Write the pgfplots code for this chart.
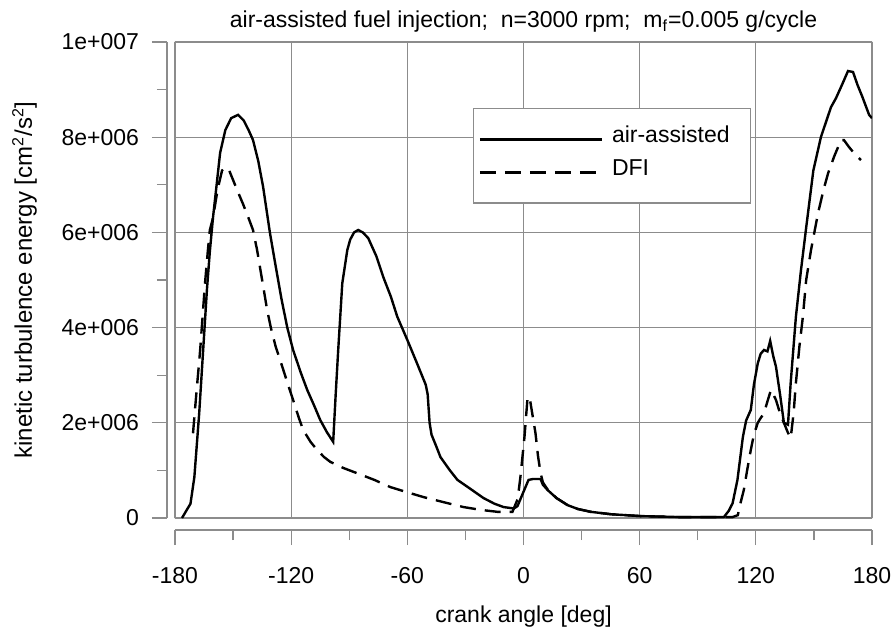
\documentclass[border=0pt]{standalone}
\usepackage{fontspec}
\setmainfont{Liberation Sans}
\usepackage{pgfplots}
\pgfplotsset{compat=1.18}

\definecolor{gridgray}{gray}{0.55}

\begin{document}
\begin{tikzpicture}
% page frame: 893 x 626 px at 0.5pt per px, axis box lower left at (0,0)
\path[use as bounding box] (-87.5pt,-54pt) rectangle (359pt,259pt);
\begin{axis}[
    at={(0,0)}, anchor=south west,
    scale only axis,
    width=348.5pt, height=238pt,
    font=\fontsize{11.5}{13.5}\selectfont,
    xmin=-180, xmax=180,
    ymin=0, ymax=10,
    separate axis lines,
    axis x line*=bottom, axis y line*=left,
    axis line style={gridgray, line width=0.6pt, -},
    x axis line style={yshift=-6pt},
    y axis line style={xshift=-4pt},
    xtick={-180,-120,-60,0,60,120,180},
    xticklabels={-180,-120,-60,0,60,120,180},
    minor xtick={-150,-90,-30,30,90,150},
    ytick={0,2,4,6,8,10},
    yticklabels={0,2e+006,4e+006,6e+006,8e+006,1e+007},
    minor ytick={1,3,5,7,9},
    tick align=outside,
    major tick length=7.5pt, minor tick length=5pt,
    tick style={gridgray, line width=0.6pt},
    xtick style={yshift=-6pt},
    ytick style={xshift=-4pt},
    xticklabel shift=7pt,
    xticklabel style={yshift=-6.5pt},
    yticklabel shift=7pt,
    grid=major,
    major grid style={gridgray, line width=0.6pt},
    title={air-assisted fuel injection;\ \ n=3000 rpm;\ \ m\textsubscript{f}=0.005 g/cycle},
    title style={at={(axis description cs:0.5,1)}, anchor=base, yshift=1pt},
    xlabel={crank angle [deg]},
    xlabel style={at={(axis description cs:0.5,0)}, anchor=base, yshift=-52pt},
    ylabel={kinetic turbulence energy [cm\textsuperscript{2}/s\textsuperscript{2}]},
    ylabel style={at={(axis description cs:0,0.5)}, anchor=base, yshift=71.5pt,
        font=\fontsize{12}{14}\selectfont},
    legend style={at={(0.4276,0.861)}, anchor=north west,
        draw=gridgray, line width=0.6pt, fill=white,
        inner xsep=2.5pt, inner ysep=8.8pt, row sep=3.5pt,
        nodes={inner ysep=0pt, text height=8pt, text depth=5pt},
        font=\fontsize{11.5}{13.5}\selectfont},
    legend cell align=left,
    legend image code/.code={\draw[#1] (0pt,0pt) -- (61pt,0pt);},
]
\draw[gridgray, line width=0.6pt] (rel axis cs:0,0) rectangle (rel axis cs:1,1);

% air-assisted (y in units of 1e6 cm^2/s^2)
\addplot[black, line width=1.2pt] coordinates {
(-176.4,0) (-172,0.3) (-170,0.86) (-167.5,2.2) (-165.5,3.5) (-163.5,4.8)
(-162,5.6) (-160.4,6.3) (-158.5,7.0) (-156.7,7.67) (-154,8.15) (-151,8.4)
(-147.4,8.47) (-144.5,8.35) (-142,8.15) (-139.7,7.94) (-137,7.5) (-134.5,6.96)
(-131,6.0) (-128.3,5.36) (-125,4.6) (-122,4.0) (-119,3.53) (-115,3.05)
(-111.7,2.69) (-108,2.35) (-105,2.06) (-101.5,1.8) (-98.3,1.6) (-97,2.6)
(-95.7,3.53) (-93.6,4.93) (-91,5.63) (-89.5,5.85) (-87.5,6.0) (-85.4,6.05)
(-83,6.0) (-80.2,5.88) (-76,5.5) (-72.4,5.06) (-68.5,4.65) (-65.2,4.23)
(-60,3.74) (-55,3.25) (-50.5,2.8) (-49.5,2.6) (-48.5,2.0) (-47.5,1.75)
(-45,1.5) (-42.9,1.28) (-38,1.0) (-34.1,0.80) (-27,0.6) (-20.7,0.42)
(-15,0.3) (-10.3,0.23) (-5,0.2) (-3.1,0.25) (0,0.55) (2.6,0.8) (5,0.82)
(8.8,0.82) (10,0.7) (12.4,0.59) (17,0.42) (22.8,0.27) (28,0.19) (34.7,0.13)
(45,0.08) (60.5,0.04) (80,0.02) (103.5,0.02) (106,0.15) (108,0.31)
(110.5,0.8) (113.3,1.7) (115,2.05) (117.4,2.27) (119,2.8) (121,3.25)
(122.5,3.45) (124.2,3.53) (126,3.5) (127.4,3.72) (129,3.4) (130.4,3.18)
(132.5,2.6) (134.5,2.0) (136.6,1.96) (138,2.84) (140.7,4.23) (143.3,5.2)
(146,6.1) (149.7,7.3) (153.6,8.0) (158.8,8.63) (161.4,8.82) (164.5,9.1)
(167.6,9.39) (170.2,9.37) (172.5,9.1) (175,8.85) (178.5,8.47) (180,8.4)
};
\addlegendentry{\kern2.5pt air-assisted\kern6pt}

% DFI
\addplot[black, line width=1.2pt, dash pattern=on 8pt off 4.5pt] coordinates {
(-170.7,1.78) (-169,2.6) (-167,3.53) (-164.5,4.93) (-163,5.63) (-162,6.05)
(-160.4,6.3) (-158,6.9) (-155.7,7.3) (-154.2,7.37) (-152,7.3) (-150,7.1)
(-147.5,6.85) (-144.9,6.6) (-142,6.3) (-139.7,6.05) (-137.6,5.63) (-135,5.0)
(-132.4,4.37) (-130.5,4.0) (-128,3.6) (-125.7,3.32) (-122,2.85) (-119,2.48)
(-116,2.1) (-113.8,1.85)
(-110,1.6) (-106.6,1.43) (-103,1.28) (-99.8,1.18) (-93,1.05) (-85.9,0.94)
(-77,0.8) (-68.8,0.65) (-60,0.54) (-51.7,0.44) (-41,0.33) (-31,0.23)
(-22,0.17) (-13.5,0.13) (-5.7,0.13) (-3,0.4) (-1.6,0.86) (0.5,1.7) (2,2.48)
(3.1,2.55) (4.5,2.2) (6.2,1.78) (7.5,1.3) (8.8,0.95) (10,0.75) (12.4,0.6)
(17,0.42) (22.8,0.27) (28,0.19) (34.7,0.13) (45,0.08) (60.5,0.04) (80,0.02)
(108,0.02) (110.7,0.06) (112,0.3) (113.8,0.59) (115.5,1.0) (117.4,1.43)
(119,1.75) (121,2.0) (122.5,2.1) (124.2,2.2) (126,2.45) (127.8,2.69)
(129,2.6) (130.4,2.48) (132.5,2.2) (134.5,2.0) (136.5,1.8) (138,1.68)
(139.5,2.2) (140.7,2.84) (142.5,3.6) (144.3,4.23) (146,5.0) (148.5,5.63)
(152.1,6.4) (155,6.9) (157.3,7.24) (160.5,7.6) (164,7.94) (165.5,7.94)
(168,7.8) (171,7.65) (174.3,7.52)
};
\addlegendentry{\kern2.5pt DFI}
\end{axis}
\end{tikzpicture}
\end{document}
